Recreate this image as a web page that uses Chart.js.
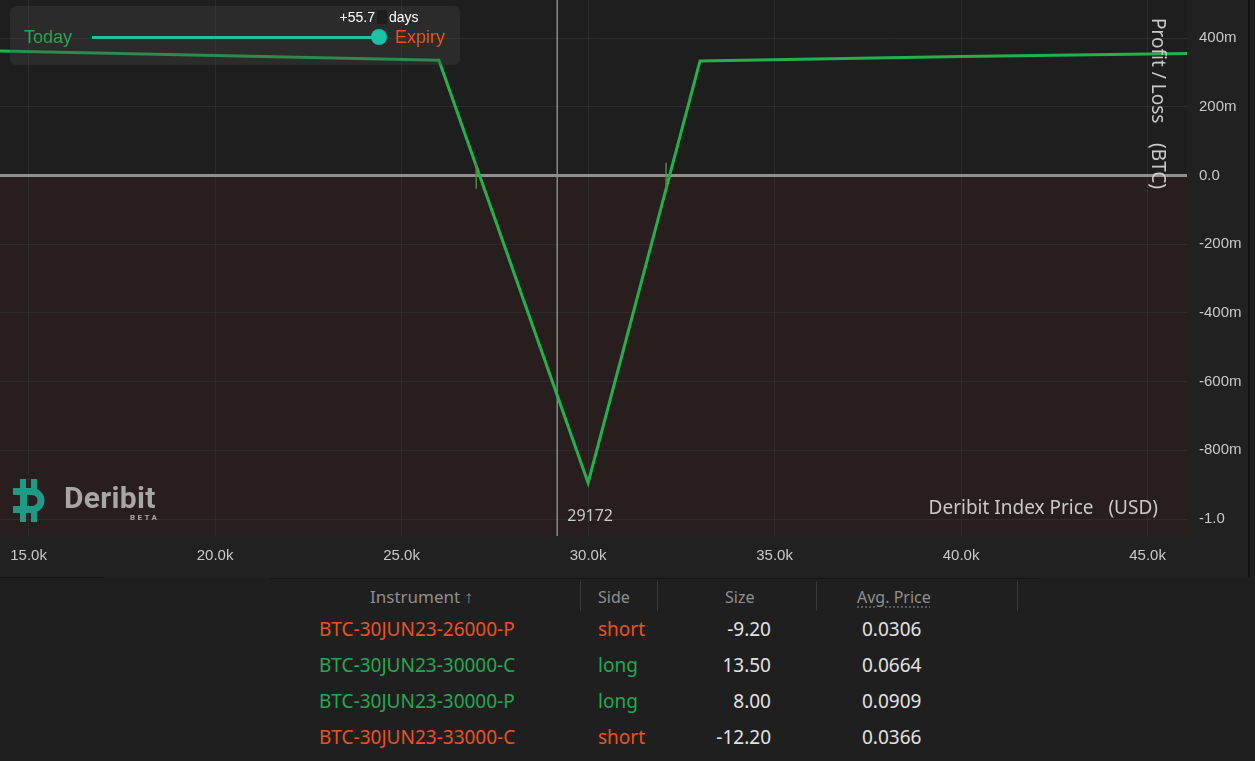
<!DOCTYPE html>
<html>
<head>
<meta charset="utf-8">
<script src="https://cdn.jsdelivr.net/npm/chart.js@4.4.0/dist/chart.umd.min.js"></script>
<style>
  body { margin: 0; background: #1f1f1f; width: 1255px; height: 761px; overflow: hidden; position: relative; }
  #wrap { position: absolute; left: 0; top: 0; width: 1248px; height: 578px; border-right: 2px solid #121212; }
  #slider { position: absolute; left: 10px; top: 6px; width: 450px; height: 59px; border-radius: 6px; background: rgba(70, 70, 70, 0.35); font-family: "Liberation Sans", Arial, sans-serif; }
  #slider .lbl { position: absolute; font-size: 18px; line-height: 20px; top: 21px; }
  #slider .small { position: absolute; font-size: 14px; line-height: 16px; top: 3px; color: #fff; }
  #track { position: absolute; left: 82px; top: 30px; width: 287px; height: 3px; background: #17c3a5; }
  #knob { position: absolute; left: 361px; top: 23px; width: 16px; height: 16px; border-radius: 50%; background: #17c3a5; }
  #logo { position: absolute; left: 13px; top: 479px; }
  #logoText { position: absolute; left: 64px; top: 480px; font-family: Roboto, sans-serif; font-weight: 700; font-size: 30px; color: #a7a7a7; letter-spacing: 0.3px; }
  #beta { position: absolute; left: 130px; top: 513px; font-family: Roboto, sans-serif; font-weight: 700; font-size: 8px; letter-spacing: 2.4px; color: #a7a7a7; }
  #table { position: absolute; left: 0; top: 578px; width: 1255px; height: 183px; font-family: "Noto Sans", sans-serif; }
  .cell { position: absolute; height: 26px; line-height: 26px; font-size: 19px; white-space: nowrap; }
  .head { color: #8f8f8f; font-size: 16px; }
  .sep { position: absolute; top: 3px; width: 1px; height: 30px; background: #393939; }
</style>
</head>
<body>
<div id="wrap"><canvas id="pnl" width="1248" height="578"></canvas></div>

<div id="slider">
  <div class="lbl" style="left:14px;color:#27a752">Today</div>
  <div id="track"></div>
  <div id="knob"></div>
  <div class="lbl" style="left:385px;color:#e8531f">Expiry</div>
  <div class="small" id="daysVal" style="right:85px"></div>
  <div style="position:absolute;left:367px;top:4px;width:10px;height:14px;background:#1e1e1e"></div>
  <div class="small" style="left:379px">days</div>
</div>

<svg id="logo" width="33" height="43" viewBox="0 0 33 43">
  <g fill="#1f9a85">
    <rect x="7" y="0" width="6" height="10"/>
    <rect x="18" y="0" width="6" height="10"/>
    <rect x="7" y="33" width="6" height="10"/>
    <rect x="18" y="33" width="6" height="10"/>
    <rect x="7" y="9" width="7" height="25"/>
  </g>
  <path d="M0 12.5 H19 A9 9 0 0 1 19 30.5 H0" fill="none" stroke="#1f9a85" stroke-width="7"/>
</svg>
<div id="logoText">Deribit</div>
<div id="beta">BETA</div>

<div id="table"></div>

<script>
// P/L at expiry
const prices = [14233, 20000, 26000, 30000, 33000, 40000, 46056];
const pnl = [0.363, 0.350, 0.336, -0.895, 0.334, 0.347, 0.356];

const xTicks = [15000, 20000, 25000, 30000, 35000, 40000, 45000];
const xTickLabels = ['15.0k', '20.0k', '25.0k', '30.0k', '35.0k', '40.0k', '45.0k'];
const yTicks = [-1.0, -0.8, -0.6, -0.4, -0.2, 0, 0.2, 0.4];
const yTickLabels = ['-1.0', '-800m', '-600m', '-400m', '-200m', '0.0', '200m', '400m'];

const indexPrice = 29172;
const breakEvens = [27000, 32090];
const daysToExpiry = 55.7;

// positions
const instruments = ['BTC-30JUN23-26000-P', 'BTC-30JUN23-30000-C', 'BTC-30JUN23-30000-P', 'BTC-30JUN23-33000-C'];
const sides = ['short', 'long', 'long', 'short'];
const sizes = [-9.20, 13.50, 8.00, -12.20];
const avgPrices = [0.0306, 0.0664, 0.0909, 0.0366];

const GREEN = '#23b14d';
const RED = '#e8531f';
const TEXT = '#c9c9c9';

document.getElementById('daysVal').textContent = '+' + daysToExpiry;

const backdrop = {
  id: 'backdrop',
  beforeDraw(chart) {
    const { ctx, chartArea: a, scales: { y } } = chart;
    const y0 = y.getPixelForValue(0);
    ctx.save();
    ctx.fillStyle = '#212121';
    ctx.fillRect(0, 0, chart.width, chart.height);
    ctx.fillStyle = '#1e1e1e';
    ctx.fillRect(a.left, a.top, a.width, y0 - a.top);
    ctx.fillStyle = '#281e1e';
    ctx.fillRect(a.left, y0, a.width, a.bottom - y0);
    ctx.restore();
  },
  beforeDatasetsDraw(chart) {
    const { ctx, chartArea: a, scales: { x } } = chart;
    const px = x.getPixelForValue(indexPrice);
    ctx.save();
    ctx.strokeStyle = '#8a8a8a';
    ctx.lineWidth = 1.5;
    ctx.beginPath();
    ctx.moveTo(px, a.top);
    ctx.lineTo(px, a.bottom);
    ctx.stroke();
    ctx.restore();
  },
  afterDatasetsDraw(chart) {
    const { ctx, chartArea: a, scales: { x, y } } = chart;
    const y0 = y.getPixelForValue(0);
    ctx.save();
    ctx.strokeStyle = '#4f8a3c';
    ctx.lineWidth = 1.5;
    breakEvens.forEach(b => {
      const px = x.getPixelForValue(b);
      ctx.beginPath();
      ctx.moveTo(px, y0 - 13);
      ctx.lineTo(px, y0 + 13);
      ctx.stroke();
    });

    ctx.fillStyle = TEXT;
    ctx.font = '16px "Noto Sans", sans-serif';
    ctx.textBaseline = 'middle';
    ctx.textAlign = 'left';
    ctx.fillText(String(indexPrice), x.getPixelForValue(indexPrice) + 10, 516);

    ctx.font = '19px "Noto Sans", sans-serif';
    ctx.textAlign = 'right';
    ctx.fillText('Deribit Index Price   (USD)', a.right - 29, 509);

    ctx.translate(a.right - 30, 18);
    ctx.rotate(Math.PI / 2);
    ctx.textAlign = 'left';
    ctx.fillText('Profit / Loss    (BTC)', 0, 0);
    ctx.restore();
  }
};

// drop the extra room Chart.js keeps for edge labels
const noPad = s => { s.paddingTop = 0; s.paddingBottom = 0; s.paddingLeft = 0; s.paddingRight = 0; };

new Chart(document.getElementById('pnl'), {
  type: 'line',
  data: {
    datasets: [{
      data: prices.map((p, i) => ({ x: p, y: pnl[i] })),
      borderColor: GREEN,
      borderWidth: 3,
      pointRadius: 0,
      tension: 0
    }]
  },
  options: {
    responsive: false,
    animation: false,
    layout: { padding: 0 },
    plugins: { legend: { display: false }, tooltip: { enabled: false } },
    scales: {
      x: {
        type: 'linear',
        min: 14233,
        max: 46056,
        afterBuildTicks: s => { s.ticks = xTicks.map(v => ({ value: v })); },
        afterFit: s => { s.height = 42; noPad(s); },
        grid: { color: '#2f2a2a', drawTicks: false },
        border: { display: false },
        ticks: {
          autoSkip: false,
          maxRotation: 0,
          padding: 11,
          color: TEXT,
          font: { family: '"Liberation Sans", Arial, sans-serif', size: 15 },
          callback: v => xTickLabels[xTicks.indexOf(v)]
        }
      },
      y: {
        position: 'right',
        min: -1.0495,
        max: 0.5115,
        afterBuildTicks: s => { s.ticks = yTicks.map(v => ({ value: v })); },
        afterFit: s => { s.width = 61; noPad(s); },
        grid: {
          drawTicks: false,
          color: c => c.tick && c.tick.value === 0 ? '#909090' : '#2f2c2c',
          lineWidth: c => c.tick && c.tick.value === 0 ? 3 : 1
        },
        border: { display: false },
        ticks: {
          padding: 12,
          color: TEXT,
          font: { family: '"Liberation Sans", Arial, sans-serif', size: 15 },
          callback: v => yTickLabels[yTicks.indexOf(v)]
        }
      }
    }
  },
  plugins: [backdrop]
});

// positions table
const table = document.getElementById('table');
function cell(text, left, top, cls, style) {
  const d = document.createElement('div');
  d.className = 'cell ' + (cls || '');
  d.textContent = text;
  d.style.top = top + 'px';
  if (left !== null) d.style.left = left + 'px';
  Object.assign(d.style, style || {});
  table.appendChild(d);
  return d;
}
const line = document.createElement('div');
line.style.cssText = 'position:absolute;left:270px;top:0;width:770px;height:1px;background:#161616';
table.appendChild(line);
const line2 = document.createElement('div');
line2.style.cssText = 'position:absolute;left:0;top:-1px;width:105px;height:1px;background:#161616';
table.appendChild(line2);

cell('Instrument   \u2191', 370, 6, 'head', { fontSize: '17px' });
cell('Side', 598, 6, 'head');
cell('Size', 725, 6, 'head');
cell('Avg. Price', 857, 6, 'head', { textDecoration: 'underline dotted #666', textUnderlineOffset: '4px' });
[580, 657, 816, 1017].forEach(x => {
  const s = document.createElement('div');
  s.className = 'sep';
  s.style.left = x + 'px';
  table.appendChild(s);
});

instruments.forEach((name, i) => {
  const top = 38 + i * 36;
  const col = sides[i] === 'long' ? '#25a850' : RED;
  cell(name, 319, top, '', { color: col });
  cell(sides[i], 598, top, '', { color: col });
  cell(sizes[i].toFixed(2), null, top, '', { color: '#e2e2e2', right: (1255 - 771) + 'px' });
  cell(avgPrices[i].toFixed(4), 862, top, '', { color: '#e2e2e2' });
});
</script>
</body>
</html>
